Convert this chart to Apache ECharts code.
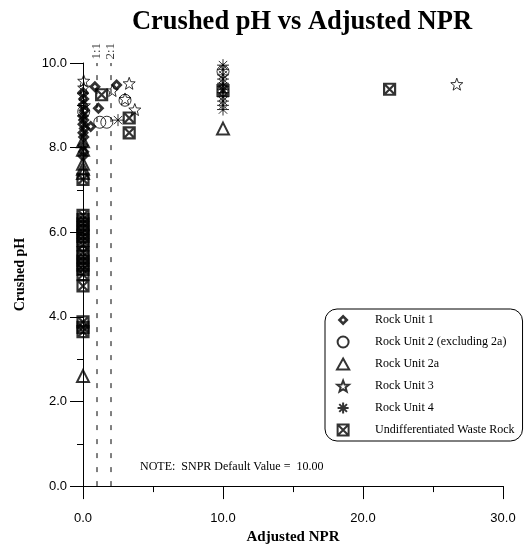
<!DOCTYPE html>
<html>
<head>
<meta charset="utf-8">
<script src="https://cdn.jsdelivr.net/npm/echarts@6/dist/echarts.min.js"></script>
<style>
html,body{margin:0;padding:0;background:#fff;}
#chart{width:529px;height:550px;}
</style>
</head>
<body>
<div id="chart"></div>
<script>
// ---- data ----
var seriesNames = ['Rock Unit 1','Rock Unit 2 (excluding 2a)','Rock Unit 2a','Rock Unit 3','Rock Unit 4','Undifferentiated Waste Rock'];
var rockUnit1 = [[0.0,9.3],[0.05,9.15],[0.0,9.0],[0.1,8.88],[0.0,8.75],[0.05,8.65],[0.0,8.55],[0.1,8.45],[0.0,8.35],[0.05,8.25],[0.0,8.05],[0.05,7.9],[0.0,7.8],[0.85,9.44],[2.4,9.48],[1.1,8.93],[0.55,8.5]];
var rockUnit2 = [[1.2,8.6],[1.7,8.6],[3.0,9.12],[0.0,6.05],[10.0,9.8],[0.05,8.85]];
var rockUnit2a = [[0.0,8.15],[0.0,7.95],[0.0,7.62],[0.0,7.5],[0.0,7.4],[0.0,2.6],[10.0,8.45]];
var rockUnit3 = [[0.05,9.58],[0.05,9.42],[0.0,9.25],[0.1,9.0],[3.3,9.52],[3.7,8.9],[3.0,9.15],[26.7,9.5],[2.1,9.35]];
var rockUnit4 = [[10.0,9.95],[10.0,9.85],[10.0,9.72],[10.0,9.62],[10.0,9.52],[10.0,9.45],[10.0,9.38],[10.0,9.3],[10.0,9.2],[10.0,9.1],[10.0,9.0],[10.0,8.9],[2.5,8.65],[0.0,8.75]];
var wasteRock = [[1.33,9.25],[3.3,8.7],[3.3,8.35],[21.9,9.38],[10.0,9.35],[0.0,7.25],[0.0,6.4],[0.0,6.3],[0.0,6.2],[0.0,6.1],[0.0,6.0],[0.0,5.9],[0.0,5.8],[0.0,5.7],[0.0,5.52],[0.0,5.42],[0.0,5.32],[0.0,5.22],[0.0,5.12],[0.0,5.0],[0.0,4.73],[0.0,3.88],[0.0,3.75],[0.0,3.65]];
var refLines = [{x:1.0, label:'1:1'},{x:2.0, label:'2:1'}];
var xTicks = {min:0, max:30, interval:10};
var yTicks = {min:0, max:10, interval:2};
var noteText = 'NOTE:  SNPR Default Value =  10.00';

// ---- symbols ----
var SYM = {
  diamond: 'path://M5,0L10,5L5,10L0,5Z M5,3.4L3.4,5L5,6.6L6.6,5Z',
  circle: 'circle',
  triangle: 'path://M5,0L10,9L0,9Z',
  star: 'path://M5,0L6.23,3.3L9.76,3.45L7,5.65L7.94,9.05L5,7.1L2.06,9.05L3,5.65L0.24,3.45L3.77,3.3Z',
  aster: 'path://M5,0L5,10M0,5L10,5M1.5,1.5L8.5,8.5M8.5,1.5L1.5,8.5',
  box: 'path://M0,0L10,0L10,10L0,10Z M0,0L10,10 M10,0L0,10'
};
var serif = '"Liberation Serif","Times New Roman",serif';
var sans = '"Liberation Sans",Arial,sans-serif';

var chart = echarts.init(document.getElementById('chart'));

function sc(name, data, symbol, size, style){
  return {type:'scatter', name:name, data:data, symbol:symbol, symbolSize:size,
    itemStyle:style, emphasis:{disabled:true}, z:3};
}

var series = [];
refLines.forEach(function(r){
  series.push({type:'line', data:[[r.x, yTicks.min],[r.x, yTicks.max]], symbol:'none', silent:true,
    lineStyle:{color:'#000', width:1, type:[5,9]}, z:1});
  series.push({type:'scatter', data:[{value:[r.x, yTicks.max], label:{show:true}}], symbol:'circle', symbolSize:1,
    itemStyle:{color:'rgba(0,0,0,0)'}, silent:true,
    label:{show:true, formatter:r.label, position:'top', distance:3, rotate:90, align:'left', verticalAlign:'middle',
      fontFamily:serif, fontSize:13, color:'#000'}, z:1});
});
series.push(sc(seriesNames[0], rockUnit1, SYM.diamond, 12, {color:'#000', borderWidth:0}));
series.push(sc(seriesNames[1], rockUnit2, SYM.circle, 12, {color:'rgba(0,0,0,0)', borderColor:'#000', borderWidth:1}));
series.push(sc(seriesNames[2], rockUnit2a, SYM.triangle, 12, {color:'rgba(0,0,0,0)', borderColor:'#000', borderWidth:2}));
series.push(sc(seriesNames[3], rockUnit3, SYM.star, 12, {color:'rgba(0,0,0,0)', borderColor:'#000', borderWidth:1}));
series.push(sc(seriesNames[4], rockUnit4, SYM.aster, 12, {color:'rgba(0,0,0,0)', borderColor:'#000', borderWidth:1}));
series.push(sc(seriesNames[5], wasteRock, SYM.box, 11, {color:'rgba(255,255,255,0)', borderColor:'#000', borderWidth:2.2}));

var legendIcons = [SYM.diamond, SYM.circle, SYM.triangle, SYM.star, SYM.aster, SYM.box];

chart.setOption({
  animation:false,
  backgroundColor:'#fff',
  title:{text:'Crushed pH vs Adjusted NPR', left:297, top:4, textAlign:'center',
    textStyle:{fontFamily:serif, fontWeight:'bold', fontSize:26.5, color:'#000'}},
  grid:{left:83, right:26, top:63, bottom:62, containLabel:false},
  xAxis:{type:'value', min:xTicks.min, max:xTicks.max, interval:xTicks.interval,
    name:'Adjusted NPR', nameLocation:'middle', nameGap:42,
    nameTextStyle:{fontFamily:serif, fontWeight:'bold', fontSize:15, color:'#000'},
    axisLine:{show:true, onZero:false, lineStyle:{color:'#000', width:1}},
    axisTick:{show:true, inside:false, length:13, lineStyle:{color:'#000'}},
    minorTick:{show:true, splitNumber:2, length:6, lineStyle:{color:'#000'}},
    splitLine:{show:false},
    axisLabel:{margin:26, fontFamily:sans, fontSize:13, color:'#000', formatter:function(v){return v.toFixed(1);}}},
  yAxis:{type:'value', min:yTicks.min, max:yTicks.max, interval:yTicks.interval,
    name:'Crushed pH', nameLocation:'middle', nameGap:56,
    nameTextStyle:{fontFamily:serif, fontWeight:'bold', fontSize:14, color:'#000'},
    axisLine:{show:true, onZero:false, lineStyle:{color:'#000', width:1}},
    axisTick:{show:true, inside:false, length:13, lineStyle:{color:'#000'}},
    minorTick:{show:true, splitNumber:2, length:6, lineStyle:{color:'#000'}},
    splitLine:{show:false},
    axisLabel:{margin:16, fontFamily:sans, fontSize:13, color:'#000', formatter:function(v){return v.toFixed(1);}}},
  legend:{
    data:seriesNames.map(function(n,i){return {name:n, icon:legendIcons[i]};}),
    orient:'vertical', left:325, top:309,
    itemWidth:20, itemHeight:11, itemGap:0, symbolKeepAspect:true,
    padding:[0,8,0,11],
    borderColor:'#000', borderWidth:1, borderRadius:12, backgroundColor:'#fff',
    selectedMode:false,
    textStyle:{fontFamily:serif, fontSize:12, lineHeight:22, color:'#000', padding:[0,0,0,17]}
  },
  graphic:[{type:'text', left:140, top:461, style:{text:noteText, font:'12px '+serif, fill:'#000'}}],
  series:series
});
</script>
</body>
</html>
